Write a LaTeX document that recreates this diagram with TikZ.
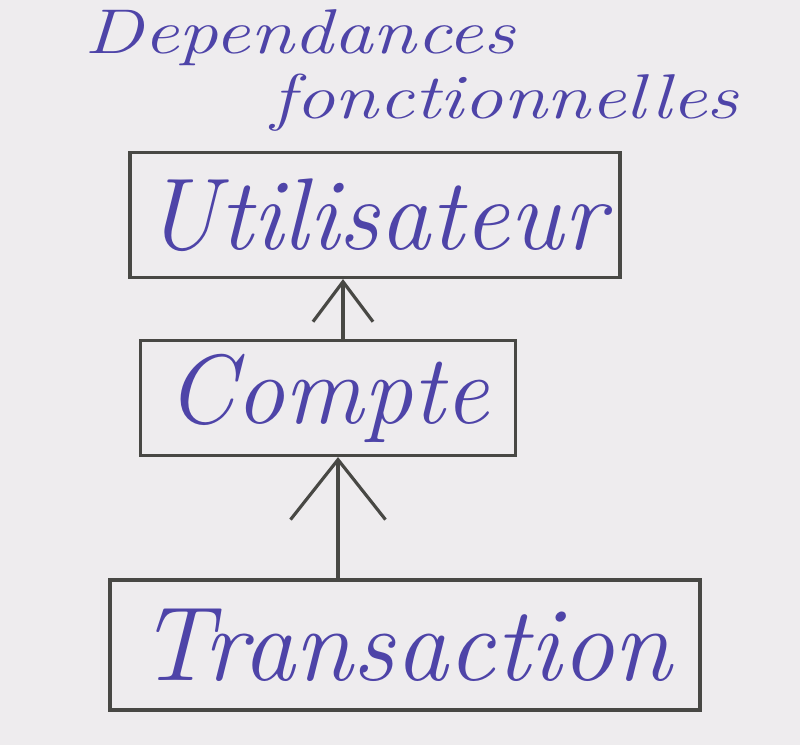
\documentclass[tikz,border=0pt]{standalone}
\usepackage{xcolor}
\usetikzlibrary{arrows.meta,positioning}

\definecolor{ink}{RGB}{78,68,168}
\definecolor{pencil}{RGB}{72,72,68}
\definecolor{paper}{RGB}{238,236,238}

\begin{document}
\begin{tikzpicture}

\tikzstyle{box}=[draw=pencil,line width=1.8pt,rectangle,inner sep=0pt,text=ink]
\tikzstyle{title}=[text=ink,inner sep=0pt,xscale=1.25,transform shape,
  font=\fontsize{36}{42}\selectfont\itshape]
\tikzset{dep/.style={draw=pencil,line width=1.8pt}}

\fill[paper] (0,0) rectangle (16,14.9);
\useasboundingbox (0,0) rectangle (16,14.9);

\node[title] (t1) at (6.0,14.15) {Dependances};
\node[title] (t2) at (10.1,12.85) {fonctionnelles};

\node[box,minimum width=9.8cm,minimum height=2.5cm,
  font=\fontsize{58}{66}\selectfont\itshape] (u) at (7.5,10.6) {Utilisateur};
\node[box,minimum width=7.5cm,minimum height=2.3cm,
  font=\fontsize{56}{64}\selectfont\itshape] (c) at (6.56,6.94) {Compte};
\node[box,minimum width=11.8cm,minimum height=2.6cm,
  font=\fontsize{60}{68}\selectfont\itshape] (tr) at (8.1,2.0) {Transaction};

% dependances
\draw[dep,-{Straight Barb[length=8mm,width=12mm]}] (c.north -| 6.86,0) -- (u.south -| 6.86,0);
\draw[dep,-{Straight Barb[length=12mm,width=19mm]}] (tr.north -| 6.76,0) -- (c.south -| 6.76,0);

\end{tikzpicture}
\end{document}
